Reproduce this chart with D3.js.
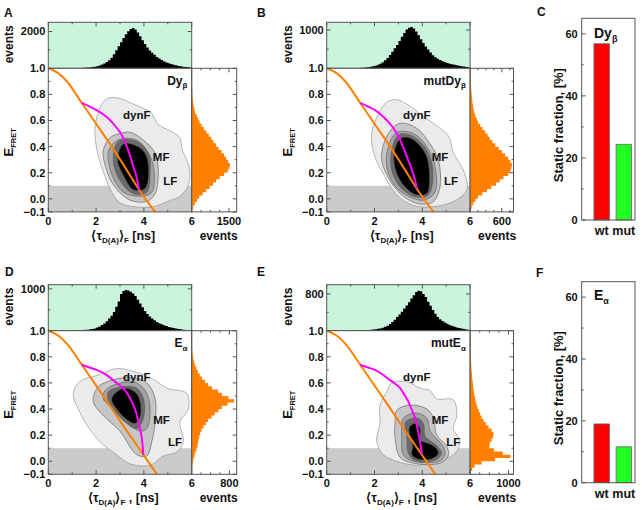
<!DOCTYPE html>
<html><head><meta charset="utf-8">
<script src="https://cdn.jsdelivr.net/npm/d3@7"></script>
<style>
body{margin:0;background:#fff}
text{font-family:"Liberation Sans",Arial,sans-serif;font-weight:bold;fill:#111}
</style>
</head><body>
<svg id="chart" width="642" height="510"></svg>
<script>
// ---------------- DATA ----------------
const tauTicks = [0, 2, 4, 6];
const eTicks = [-0.1, 0.0, 0.2, 0.4, 0.6, 0.8, 1.0];
const tauBins = [1.0,1.1,1.2,1.3,1.4,1.5,1.6,1.7,1.8,1.9,2.0,2.1,2.2,2.3,2.4,2.5,2.6,2.7,2.8,2.9,3.0,3.1,3.2,3.3,3.4,3.5,3.6,3.7,3.8,3.9,4.0,4.1,4.2,4.3,4.4,4.5,4.6,4.7,4.8,4.9,5.0,5.1,5.2,5.3,5.4,5.5,5.6,5.7,5.8,5.9];
const eBins = [-0.1,-0.075,-0.05,-0.025,0,0.025,0.05,0.075,0.1,0.125,0.15,0.175,0.2,0.225,0.25,0.275,0.3,0.325,0.35,0.375,0.4,0.425,0.45,0.475,0.5,0.525,0.55,0.575,0.6,0.625,0.65,0.675,0.7,0.725,0.75,0.775,0.8,0.825,0.85,0.875,0.9,0.925,0.95,0.975];

const topHistA = [5,8,12,18,25,32,40,50,65,85, 110,150,200,260,340,440,570,760,980,1200, 1420,1650,1850,2020,2140,2190,2110,1950,1740,1520, 1320,1130,970,840,730,620,530,450,380,320, 270,230,190,160,130,110,90,70,55,40];
const topHistB = [3,5,7,9,12,16,22,30,40,52, 68,90,120,160,210,270,350,430,520,610, 710,820,920,1010,1060,1080,1040,960,860,760, 660,570,490,410,340,290,250,215,185,160, 140,120,105,90,78,66,55,45,35,25];
const topHistD = [5,7,9,12,15,20,25,32,42,55, 75,100,135,175,225,290,360,450,570,700, 880,950,975,960,930,890,830,740,650,560, 470,400,340,290,250,210,180,155,130,110, 90,75,62,50,40,32,25,18,12,8];
const topHistE = [2,3,4,5,7,9,12,15,20,25, 32,40,50,65,85,110,145,190,240,300, 350,410,480,550,620,700,770,840,870,860, 800,730,630,540,450,370,300,250,210,180, 150,125,105,88,72,58,46,36,28,20];

const rightHistA = [20,60,130,210,300,440,580,720,860,980,1130,1300,1450,1520,1540,1470,1380,1300,1200,1080,980,880,790,690,590,490,400,320,260,200,140,110,80,60,42,30,22,15,10,7,4,2,1,0];
const rightHistB = [10,30,60,100,150,230,320,400,490,560,630,720,760,780,790,760,720,660,600,540,475,420,370,330,285,235,190,150,125,100,80,65,55,45,38,32,28,22,18,14,10,6,3,1];
const rightHistD = [5,10,15,25,35,55,75,100,120,130,145,160,180,210,250,300,350,420,490,570,640,760,900,780,640,560,430,350,280,220,170,130,100,70,50,35,22,14,8,5,3,2,1,0];
const rightHistE = [20,50,120,300,650,1050,850,620,500,510,560,600,610,560,480,410,350,300,260,225,190,165,145,130,110,95,85,75,65,55,50,42,35,30,25,20,16,12,9,6,4,2,1,0];

// contour levels (outermost to innermost), points [tau, E]
const contoursA = [
  [[2.5,0.77],[3.0,0.77],[3.5,0.73],[3.9,0.70],[4.3,0.66],[4.6,0.57],[5.1,0.52],[5.5,0.47],[5.6,0.38],[5.9,0.24],[5.85,0.10],[5.5,0.02],[5.0,-0.02],[4.4,-0.06],[3.6,-0.06],[3.0,-0.03],[2.6,0.07],[2.3,0.21],[2.05,0.36],[1.95,0.52],[2.05,0.64],[2.25,0.73]],
  [[3.0,0.50],[3.42,0.51],[3.98,0.45],[4.47,0.35],[4.6,0.22],[4.47,0.04],[4.12,-0.02],[3.42,-0.01],[2.79,0.09],[2.44,0.22],[2.3,0.37],[2.6,0.47]],
  [[3.07,0.46],[3.7,0.45],[4.12,0.37],[4.4,0.25],[4.33,0.05],[3.84,0.02],[3.14,0.05],[2.65,0.19],[2.51,0.36],[2.75,0.43]],
  [[2.93,0.44],[3.7,0.44],[4.19,0.35],[4.26,0.19],[4.12,0.05],[3.56,0.04],[3.0,0.14],[2.72,0.30]],
  [[3.14,0.42],[3.63,0.41],[4.05,0.35],[4.2,0.22],[4.05,0.08],[3.56,0.07],[3.14,0.18],[2.9,0.30]]
];
const contoursB = [
  [[2.93,0.76],[3.49,0.71],[4.05,0.63],[4.6,0.56],[5.1,0.48],[5.3,0.35],[5.72,0.22],[5.86,0.07],[5.3,-0.02],[4.47,-0.06],[3.63,-0.05],[2.93,0.03],[2.44,0.17],[2.02,0.32],[1.88,0.50],[2.16,0.65],[2.51,0.74]],
  [[3.2,0.58],[3.77,0.54],[4.33,0.42],[4.67,0.30],[4.74,0.09],[4.47,-0.02],[3.9,-0.04],[3.2,0.02],[2.65,0.14],[2.3,0.30],[2.44,0.45],[2.86,0.56]],
  [[2.93,0.51],[3.63,0.50],[4.19,0.40],[4.53,0.25],[4.53,0.05],[4.05,-0.01],[3.42,0.02],[2.86,0.10],[2.51,0.25],[2.58,0.40]],
  [[3.0,0.49],[3.49,0.49],[4.05,0.41],[4.4,0.27],[4.4,0.09],[4.19,0.02],[3.63,0.02],[3.07,0.09],[2.72,0.22],[2.72,0.37]],
  [[3.07,0.46],[3.42,0.47],[3.84,0.42],[4.19,0.32],[4.3,0.14],[4.19,0.04],[3.77,0.03],[3.28,0.09],[2.9,0.21],[2.82,0.35]]
];
const contoursD = [
  [[1.4,0.62],[2.09,0.66],[2.86,0.71],[3.7,0.68],[4.47,0.62],[4.95,0.56],[5.79,0.52],[5.86,0.40],[5.51,0.30],[5.65,0.15],[5.37,0.07],[4.81,0.04],[4.26,-0.03],[3.42,-0.02],[2.86,0.05],[2.16,0.15],[1.53,0.30],[1.26,0.40],[1.05,0.49],[1.1,0.56]],
  [[2.09,0.57],[2.65,0.62],[3.42,0.64],[4.12,0.60],[4.47,0.48],[4.47,0.30],[4.33,0.15],[4.12,0.04],[3.7,0.05],[3.0,0.23],[2.3,0.35],[1.88,0.46]],
  [[2.37,0.54],[3.0,0.60],[3.7,0.60],[4.12,0.52],[4.26,0.38],[4.12,0.25],[3.84,0.23],[3.42,0.28],[2.72,0.40],[2.3,0.48]],
  [[2.51,0.53],[3.07,0.57],[3.7,0.56],[3.98,0.48],[3.98,0.33],[3.7,0.25],[3.21,0.30],[2.72,0.40],[2.51,0.47]],
  [[2.79,0.52],[3.21,0.56],[3.63,0.53],[3.84,0.46],[3.84,0.34],[3.63,0.29],[3.28,0.32],[2.86,0.40],[2.65,0.47]]
];
const contoursE = [
  [[2.72,0.60],[3.35,0.61],[3.91,0.56],[4.33,0.54],[4.6,0.48],[5.3,0.47],[5.44,0.35],[5.3,0.25],[5.58,0.15],[5.3,0.05],[4.6,0.0],[3.77,-0.03],[2.93,0.0],[2.37,0.05],[2.09,0.15],[2.23,0.30],[2.23,0.43],[2.51,0.53]],
  [[2.93,0.39],[3.49,0.43],[4.19,0.40],[4.47,0.33],[4.6,0.20],[5.0,0.12],[5.1,0.05],[4.8,-0.01],[3.8,-0.02],[3.07,0.03],[2.86,0.18],[2.86,0.30]],
  [[3.21,0.33],[3.7,0.37],[4.19,0.33],[4.33,0.23],[4.85,0.12],[4.95,0.05],[4.7,0.0],[3.63,0.0],[3.2,0.05],[3.14,0.18],[3.14,0.28]],
  [[3.3,0.30],[3.77,0.33],[4.05,0.29],[4.12,0.19],[4.6,0.12],[4.8,0.06],[4.55,0.01],[3.7,0.005],[3.42,0.06],[3.35,0.20]],
  [[3.46,0.26],[3.7,0.29],[3.91,0.25],[3.91,0.16],[4.19,0.14],[4.53,0.11],[4.67,0.06],[4.4,0.02],[3.84,0.015],[3.56,0.05],[3.6,0.12],[3.49,0.19]]
];

const orangeAB = [[0,1.0],[0.4,0.965],[0.8,0.895],[1.4,0.735],[2.0,0.575],[2.6,0.415],[3.2,0.245],[3.8,0.07],[4.2,-0.035],[4.6,-0.13]];
const orangeDE = [[0,1.0],[0.4,0.965],[0.8,0.895],[1.4,0.74],[2.0,0.58],[2.6,0.42],[3.2,0.255],[3.6,0.15],[4.0,0.045],[4.3,-0.035],[4.7,-0.14]];
const magentaA = [[1.4,0.735],[1.7,0.71],[2.02,0.68],[2.35,0.64],[2.65,0.59],[2.9,0.535],[3.07,0.49],[3.22,0.43],[3.35,0.37],[3.46,0.31],[3.56,0.245],[3.66,0.19],[3.73,0.135],[3.8,0.07]];
const magentaB = [[1.4,0.735],[1.7,0.71],[2.02,0.68],[2.3,0.64],[2.58,0.59],[2.8,0.54],[3.0,0.48],[3.15,0.42],[3.28,0.36],[3.4,0.30],[3.52,0.245],[3.62,0.19],[3.7,0.14],[3.77,0.08]];
const magentaD = [[1.4,0.74],[1.7,0.72],[2.02,0.70],[2.4,0.665],[2.72,0.62],[3.0,0.58],[3.21,0.545],[3.4,0.49],[3.56,0.43],[3.68,0.37],[3.77,0.30],[3.85,0.24],[3.91,0.18],[3.95,0.11],[3.98,0.05]];
const magentaE = [[1.4,0.74],[1.7,0.72],[2.02,0.70],[2.3,0.67],[2.58,0.63],[2.85,0.595],[3.07,0.56],[3.25,0.51],[3.42,0.455],[3.57,0.39],[3.7,0.33],[3.8,0.25],[3.88,0.175],[3.94,0.11],[3.98,0.05]];

const staticCategories = ["wt", "mut"];
const staticDy = [56.8, 24.4];
const staticE = [19.0, 11.6];
const staticTicks = [0, 20, 40, 60];

// ---------------- LAYOUT ----------------
const svg = d3.select("#chart");
const MW = 143.4, MH = 143.6, TH = 46;
const contourFill = ["#ebebeb", "#c6c6c6", "#a2a2a2", "#6a6a6a", "#000000"];
const ORANGE = "#ff7f00", MAGENTA = "#ff00ff", FRAME = "#555";

const panels = [
  {letter:"A", lx:4, ly:17, mx:48.3, my:68.3, rw:45, top:topHistA, topMax:2500, topMajor:2000,
   right:rightHistA, rightMax:1810, rightMajor:1500, contours:contoursA, orange:orangeAB, magenta:magentaA,
   tag:["Dy","β"], comma:false, pos:{tag:[5.82,0.875], dynF:[3.7,0.64], MF:[4.72,0.32], LF:[5.1,0.14]}},
  {letter:"B", lx:257, ly:17, mx:326.7, my:68.3, rw:43.4, top:topHistB, topMax:1200, topMajor:1000,
   right:rightHistB, rightMax:820, rightMajor:600, contours:contoursB, orange:orangeAB, magenta:magentaB,
   tag:["mutDy","β"], comma:false, pos:{tag:[5.82,0.875], dynF:[3.77,0.64], MF:[4.74,0.32], LF:[5.2,0.14]}},
  {letter:"D", lx:5, ly:276, mx:48.3, my:330.7, rw:45, top:topHistD, topMax:1100, topMajor:1000,
   right:rightHistD, rightMax:955, rightMajor:800, contours:contoursD, orange:orangeDE, magenta:magentaD,
   tag:["E","α"], comma:true, pos:{tag:[5.82,0.875], dynF:[3.7,0.645], MF:[4.74,0.315], LF:[5.3,0.145]}},
  {letter:"E", lx:257, ly:276, mx:326.7, my:330.7, rw:43.4, top:topHistE, topMax:1000, topMajor:800,
   right:rightHistE, rightMax:1130, rightMajor:1000, contours:contoursE, orange:orangeDE, magenta:magentaE,
   tag:["mutE","α"], comma:true, pos:{tag:[5.82,0.875], dynF:[3.77,0.645], MF:[4.74,0.315], LF:[5.3,0.145]}}
];

function rich(g, x, y, parts, size, anchor, rotate) {
  const t = g.append("text").attr("font-size", size).attr("text-anchor", anchor || "start");
  if (rotate) t.attr("transform", `translate(${x},${y}) rotate(-90)`);
  else t.attr("x", x).attr("y", y);
  let shift = 0;
  parts.forEach(p => {
    const ts = t.append("tspan").text(p[0]);
    const off = p[1] || 0;
    ts.attr("dy", off - shift);
    shift = off;
    if (p[2]) ts.attr("font-size", p[2]);
  });
  return t;
}
function tick(g, x1, y1, x2, y2) {
  g.append("line").attr("x1", x1).attr("y1", y1).attr("x2", x2).attr("y2", y2)
    .attr("stroke", FRAME).attr("stroke-width", 1);
}

panels.forEach((p, i) => {
  const g = svg.append("g");
  const x = d3.scaleLinear([0, 6], [p.mx, p.mx + MW]);
  const y = d3.scaleLinear([-0.1, 1.0], [p.my + MH, p.my]);
  const yT = d3.scaleLinear([0, p.topMax], [p.my, p.my - TH]);
  const xR = d3.scaleLinear([0, p.rightMax], [p.mx + MW, p.mx + MW + p.rw]);
  const binW = tauBins[1] - tauBins[0];
  const eW = eBins[1] - eBins[0];

  const clipId = "clip" + i;
  svg.append("clipPath").attr("id", clipId).append("rect")
    .attr("x", p.mx).attr("y", p.my).attr("width", MW).attr("height", MH);
  const clipT = "clipT" + i;
  svg.append("clipPath").attr("id", clipT).append("rect")
    .attr("x", p.mx).attr("y", p.my - TH).attr("width", MW).attr("height", TH);

  // ---- top histogram ----
  g.append("rect").attr("x", p.mx).attr("y", p.my - TH).attr("width", MW).attr("height", TH).attr("fill", "#c9f5dc");
  const topData = tauBins.map((b, k) => ({t: b, v: p.top[k]}));
  topData.push({t: tauBins[tauBins.length - 1] + binW, v: p.top[p.top.length - 1]});
  g.append("path").datum(topData).attr("clip-path", `url(#${clipT})`)
    .attr("d", d3.area().x(d => x(d.t)).y0(p.my).y1(d => yT(d.v)).curve(d3.curveStepAfter))
    .attr("fill", "#000");
  g.append("rect").attr("x", p.mx).attr("y", p.my - TH).attr("width", MW).attr("height", TH)
    .attr("fill", "none").attr("stroke", FRAME);

  // ---- main plot ----
  const mg = g.append("g").attr("clip-path", `url(#${clipId})`);
  mg.append("rect").attr("x", p.mx).attr("y", p.my).attr("width", MW).attr("height", MH).attr("fill", "#fff");
  mg.append("rect").attr("x", x(0)).attr("y", y(0.1)).attr("width", x(6) - x(0)).attr("height", y(-0.1) - y(0.1)).attr("fill", "#cbcbcb");
  const cl = d3.line().x(d => x(d[0])).y(d => y(d[1])).curve(d3.curveCatmullRomClosed.alpha(0.5));
  p.contours.forEach((poly, k) => {
    mg.append("path").attr("d", cl(poly)).attr("fill", contourFill[k])
      .attr("stroke", k === 0 ? "#8a8a8a" : "#555").attr("stroke-width", 0.6);
  });
  const ln = d3.line().x(d => x(d[0])).y(d => y(d[1])).curve(d3.curveMonotoneX);
  mg.append("path").attr("d", ln(p.orange)).attr("fill", "none").attr("stroke", ORANGE).attr("stroke-width", 2);
  mg.append("path").attr("d", ln(p.magenta)).attr("fill", "none").attr("stroke", MAGENTA).attr("stroke-width", 2);

  // labels in main
  rich(g, x(p.pos.tag[0]), y(p.pos.tag[1]), [[p.tag[0], 0], [p.tag[1], 3.5, 8]], 12, "end");
  [["dynF", p.pos.dynF], ["MF", p.pos.MF], ["LF", p.pos.LF]].forEach(([s, q]) => {
    g.append("text").attr("x", x(q[0])).attr("y", y(q[1])).attr("dy", "0.35em")
      .attr("text-anchor", "middle").attr("font-size", 11.5).attr("fill", "#222").text(s);
  });
  g.append("rect").attr("x", p.mx).attr("y", p.my).attr("width", MW).attr("height", MH)
    .attr("fill", "none").attr("stroke", FRAME);

  // ---- right histogram ----
  const pts = [[0, eBins[0]]];
  eBins.forEach((e, k) => { pts.push([p.right[k], e]); pts.push([p.right[k], e + eW]); });
  pts.push([0, eBins[eBins.length - 1] + eW]);
  g.append("path").attr("d", d3.line().x(d => xR(d[0])).y(d => y(d[1]))(pts) + "Z").attr("fill", ORANGE);
  g.append("rect").attr("x", p.mx + MW).attr("y", p.my).attr("width", p.rw).attr("height", MH)
    .attr("fill", "none").attr("stroke", FRAME);

  // ---- ticks ----
  const yb = p.my + MH;
  d3.range(-0.1, 1.001, 0.1).forEach(v => {
    const major = eTicks.some(t => Math.abs(t - v) < 1e-6);
    tick(g, p.mx, y(v), p.mx + (major ? 4 : 2), y(v));
    tick(g, p.mx + MW + p.rw, y(v), p.mx + MW + p.rw - (major ? 4 : 2), y(v));
  });
  d3.range(0, 6.001, 1).forEach(v => {
    const major = v % 2 === 0;
    tick(g, x(v), yb, x(v), yb - (major ? 4 : 2));
    tick(g, x(v), p.my - TH, x(v), p.my - TH + (major ? 4 : 2));
  });
  [p.topMajor / 2, p.topMajor].forEach((v, k) => {
    tick(g, p.mx, yT(v), p.mx + (k ? 4 : 2), yT(v));
    tick(g, p.mx + MW, yT(v), p.mx + MW - (k ? 4 : 2), yT(v));
  });
  const rm = p.rightMajor / 4;
  for (let v = rm; v < p.rightMax; v += rm) {
    const major = Math.abs(v - p.rightMajor) < 1e-6;
    tick(g, xR(v), yb, xR(v), yb - (major ? 4 : 2));
    tick(g, xR(v), p.my, xR(v), p.my + (major ? 4 : 2));
  }

  // ---- tick labels ----
  eTicks.forEach(v => {
    g.append("text").attr("x", p.mx - 3).attr("y", y(v)).attr("dy", "0.36em")
      .attr("text-anchor", "end").attr("font-size", 11).text(d3.format(".1f")(v));
  });
  tauTicks.forEach(v => {
    g.append("text").attr("x", x(v)).attr("y", yb + 13).attr("text-anchor", "middle")
      .attr("font-size", 11).text(v);
  });
  g.append("text").attr("x", p.mx - 3).attr("y", yT(p.topMajor)).attr("dy", "0.36em")
    .attr("text-anchor", "end").attr("font-size", 11).text(p.topMajor);
  g.append("text").attr("x", xR(p.rightMajor)).attr("y", yb + 13).attr("text-anchor", "middle")
    .attr("font-size", 11).text(p.rightMajor);

  // ---- titles ----
  rich(g, p.mx - 35, p.my - 24, [["events", 0]], 12, "middle", true);
  rich(g, p.mx - 35, p.my + 74, [["E", 0], ["FRET", 3, 7.5]], 13, "middle", true);
  const xl = [["⟨τ", 0], ["D(A)", 3, 8], ["⟩", 0], ["F", 3, 8], [p.comma ? " , [ns]" : " [ns]", 0]];
  rich(g, p.mx + 75, yb + 28, xl, 12.5, "middle");
  g.append("text").attr("x", p.mx + MW + 27).attr("y", yb + 28).attr("text-anchor", "middle")
    .attr("font-size", 12).text("events");
  g.append("text").attr("x", p.lx).attr("y", p.ly).attr("font-size", 12).text(p.letter);
});

// ---------------- BAR PANELS ----------------
const bars = [
  {letter:"C", lx:537, ly:16, fx:581.7, fw:53.3, fy:18.3, fh:201.7, values:staticDy, tag:["Dy","β"], tx:594, ty:38},
  {letter:"F", lx:536, ly:277, fx:581.7, fw:53.3, fy:281.7, fh:201, values:staticE, tag:["E","α"], tx:594, ty:300}
];
const barColors = ["#ff0000", "#22ff22"];
bars.forEach(b => {
  const g = svg.append("g");
  const y = d3.scaleLinear([0, 65], [b.fy + b.fh, b.fy]);
  const xb = d3.scaleBand(staticCategories, [b.fx, b.fx + b.fw]).paddingInner(0.3).paddingOuter(0.355).align(0.78);
  staticCategories.forEach((c, k) => {
    g.append("rect").attr("x", xb(c)).attr("y", y(b.values[k])).attr("width", xb.bandwidth())
      .attr("height", y(0) - y(b.values[k])).attr("fill", barColors[k]).attr("stroke", "#666").attr("stroke-width", 0.8);
    g.append("text").attr("x", xb(c) + xb.bandwidth() / 2).attr("y", b.fy + b.fh + 15)
      .attr("text-anchor", "middle").attr("font-size", 12.5).text(c);
  });
  g.append("rect").attr("x", b.fx).attr("y", b.fy).attr("width", b.fw).attr("height", b.fh)
    .attr("fill", "none").attr("stroke", FRAME);
  d3.range(0, 65, 10).forEach(v => {
    const major = v % 20 === 0;
    tick(g, b.fx, y(v), b.fx + (major ? 4 : 2), y(v));
  });
  staticTicks.forEach(v => {
    g.append("text").attr("x", b.fx - 4).attr("y", y(v)).attr("dy", "0.36em")
      .attr("text-anchor", "end").attr("font-size", 11).text(v);
  });
  rich(g, b.fx - 19, b.fy + b.fh / 2 + 6, [["Static fraction, [%]", 0]], 13, "middle", true);
  rich(g, b.tx, b.ty, [[b.tag[0], 0], [b.tag[1], 4, 9]], 14, "start");
  g.append("text").attr("x", b.lx).attr("y", b.ly).attr("font-size", 12).text(b.letter);
});
</script>
</body></html>
